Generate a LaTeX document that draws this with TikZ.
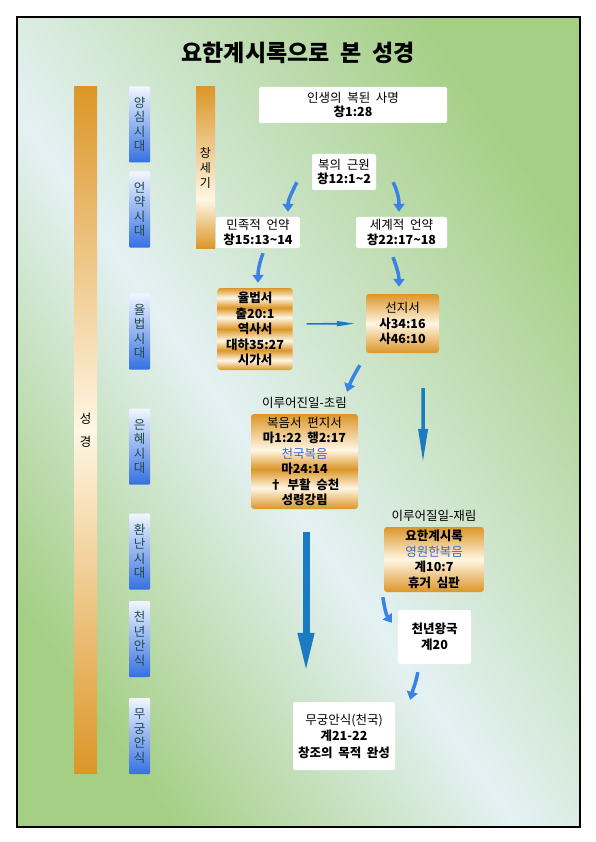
\documentclass[tikz,border=0pt]{standalone}
\usepackage{fontspec}
\setmainfont{Noto Sans CJK KR}[WordSpace=2]
\usepackage{tikz}
\usetikzlibrary{arrows.meta}
\usetikzlibrary{positioning, calc, shadings}

\definecolor{bggreen}{HTML}{A6CF86}
\definecolor{bglight}{HTML}{E4F1F3}
\definecolor{golddark}{HTML}{DC9628}
\definecolor{goldlight}{HTML}{FFF6E4}
\definecolor{eratop}{HTML}{F2F6FF}
\definecolor{erablue}{HTML}{3570E2}
\definecolor{eratext}{HTML}{1F4A4C}
\definecolor{gospelblue}{HTML}{3468DC}
\definecolor{arrowblue}{HTML}{3A82E6}
\definecolor{linkblue}{HTML}{1A7BC3}

\pgfdeclarehorizontalshading{bgshade}{100bp}{color(0bp)=(bggreen); color(25bp)=(bggreen); color(46bp)=(bglight); color(75bp)=(bggreen); color(100bp)=(bggreen)}
\pgfdeclareverticalshading{goldone}{100bp}{color(0bp)=(golddark); color(25bp)=(golddark); color(50bp)=(goldlight); color(75bp)=(golddark); color(100bp)=(golddark)}
\pgfdeclareverticalshading{goldtwo}{100bp}{color(0bp)=(golddark); color(25bp)=(golddark); color(36bp)=(goldlight); color(46bp)=(golddark); color(56bp)=(goldlight); color(75bp)=(golddark); color(100bp)=(golddark)}
\pgfdeclareverticalshading{goldstripe}{100bp}{color(0bp)=(golddark); color(25bp)=(golddark); color(31bp)=(goldlight); color(37bp)=(golddark); color(43bp)=(goldlight); color(50bp)=(golddark); color(57bp)=(goldlight); color(63bp)=(golddark); color(69bp)=(goldlight); color(75bp)=(golddark); color(100bp)=(golddark)}
\pgfdeclareverticalshading{genesisbar}{100bp}{color(0bp)=(golddark); color(25bp)=(golddark); color(40bp)=(goldlight); color(75bp)=(golddark); color(100bp)=(golddark)}

\begin{document}
\begin{tikzpicture}[x=1pt, y=1pt, >={Triangle[length=8pt,width=11pt]},
  white node/.style={fill=white, rounded corners=2pt, inner sep=0pt, align=center, font=\fontsize{12.5}{14.5}\selectfont},
  gold node/.style={shading=goldone, rounded corners=3pt, inner sep=0pt, align=center, font=\fontsize{12.5}{15.5}\selectfont\bfseries},
  era node/.style={top color=eratop, bottom color=erablue, rounded corners=1pt, minimum width=21pt, minimum height=76pt, inner sep=0pt, align=center, text=eratext, font=\fontsize{12.5}{14.5}\selectfont},
  label node/.style={inner sep=0pt, font=\fontsize{12.5}{14}\selectfont},
  bent arrow/.style={->, draw=arrowblue, line width=3.5pt},
  straight arrow/.style={draw=linkblue}]

    \useasboundingbox (0,0) rectangle (595,-842);
    \shade[shading=bgshade, shading angle=35] (17,-17) rectangle (580,-827);
    \draw[line width=1.3pt] (17,-17) rectangle (580,-827);

    \node[font=\fontsize{23}{26}\selectfont\bfseries] (title) at (298,-53) {요한계시록으로 본 성경};

    % ages
    \node[top color=golddark, bottom color=golddark, middle color=goldlight, minimum width=23pt, minimum height=686pt, inner sep=0pt, align=center, font=\fontsize{12.5}{14}\selectfont] (bible) at (85.5,-430) {성\\[9pt]경};
    \node[era node] (e1) at (139.5,-124.5) {양\\심\\시\\대};
    \node[era node] (e2) at (139.5,-209.5) {언\\약\\시\\대};
    \node[era node] (e3) at (139.5,-331.5) {율\\법\\시\\대};
    \node[era node] (e4) at (139.5,-446.5) {은\\혜\\시\\대};
    \node[era node] (e5) at (139.5,-551.5) {환\\난\\시\\대};
    \node[era node] (e6) at (139.5,-639) {천\\년\\안\\식};
    \node[era node] (e7) at (139.5,-736) {무\\궁\\안\\식};
    \node[shading=genesisbar, minimum width=19pt, minimum height=161pt, inner sep=0pt, align=center, font=\fontsize{12}{15}\selectfont] (gen) at (205.5,-167.5) {창\\세\\기};

    % boxes
    \node[white node, minimum width=188pt, minimum height=36pt] (0) at (353,-105) {인생의 복된 사명\\\textbf{창1:28}};
    \node[white node, minimum width=64pt, minimum height=36pt] (1) at (344,-172) {복의 근원\\\textbf{창12:1\textasciitilde2}};
    \node[white node, minimum width=84pt, minimum height=31pt] (2) at (258,-232.5) {민족적 언약\\\textbf{창15:13\textasciitilde14}};
    \node[white node, minimum width=91pt, minimum height=31pt] (3) at (401.5,-232.5) {세계적 언약\\\textbf{창22:17\textasciitilde18}};
    \node[gold node, shading=goldstripe, minimum width=75pt, minimum height=82pt] (4) at (255,-329) {율법서\\출20:1\\역사서\\대하35:27\\시가서};
    \node[gold node, minimum width=73pt, minimum height=59pt] (5) at (402.5,-323.5) {{\mdseries 선지서}\\사34:16\\사46:10};
    \node[gold node, shading=goldtwo, minimum width=107pt, minimum height=95pt] (6) at (304.5,-461.5) {{\mdseries 복음서 편지서}\\마1:22 행2:17\\{\mdseries\color{gospelblue}천국복음}\\마24:14\\† 부활 승천\\성령강림};
    \node[gold node, minimum width=100pt, minimum height=65pt] (7) at (434,-559.5) {요한계시록\\{\mdseries\color{gospelblue}영원한복음}\\계10:7\\휴거 심판};
    \node[white node, minimum width=73pt, minimum height=54pt, font=\fontsize{12.5}{16}\selectfont\bfseries] (8) at (434.5,-637) {천년왕국\\계20};
    \node[white node, minimum width=102pt, minimum height=68pt, font=\fontsize{12.5}{16.5}\selectfont] (9) at (344,-736) {무궁안식(천국)\\\textbf{계21-22}\\\textbf{창조의 목적 완성}};

    \node[label node, above=5pt of 6] (past) {이루어진일-초림};
    \node[label node, above=5pt of 7] (future) {이루어질일-재림};

    \path
      ($(1.south west)+(-15,8)$)  edge [bent arrow, out=-115, in=90] ($(2.north)+(30,5)$)
      ($(1.south east)+(17,8)$)   edge [bent arrow, out=-65, in=90]  ($(3.north)+(-2.5,5)$)
      ($(2.south)+(5,-5)$)        edge [bent arrow, out=-110, in=90] ($(4.north)+(3,5)$)
      ($(3.south)+(-8.5,-9)$)     edge [bent arrow, out=-70, in=90]  ($(5.north)+(-3.5,7)$)
      ($(5.south west)+(-6,-12)$) edge [bent arrow, out=-120, in=70] ($(6.north)+(42.5,22)$)
      ($(7.south west)+(-1,-5)$)  edge [bent arrow, out=-80, in=125] ($(8.north west)+(-6,-13)$)
      ($(8.south west)+(20,-8)$)  edge [bent arrow, out=-100, in=75] ($(9.north east)+(15,2)$);

    \draw[straight arrow, line width=1.6pt, -{Triangle[length=18pt,width=5pt]}, shorten <=14pt, shorten >=11pt] ([yshift=5pt]4.east) -- (5.west);
    \draw[straight arrow, line width=3.5pt, -{Triangle[length=34pt,width=9pt]}] ($(5.south east)+(-16,-35)$) -- ($(7.north)+(-11,64)$);
    \draw[straight arrow, line width=7pt, -{Triangle[length=40pt,width=15pt]}] ($(6.south)+(1.5,-23)$) -- ($(6.south |- 9.north)+(1.5,29)$);
\end{tikzpicture}
\end{document}
